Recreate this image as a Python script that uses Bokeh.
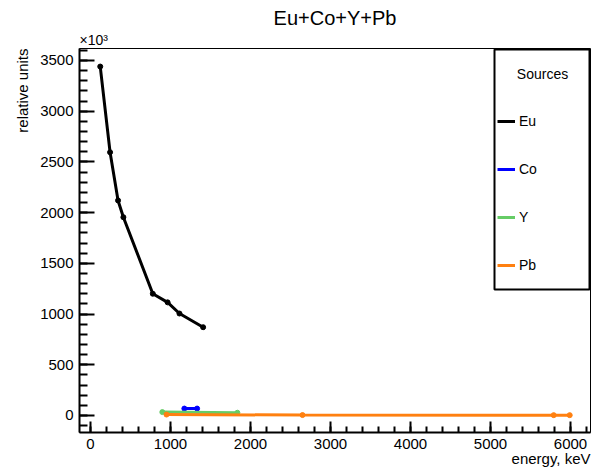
from bokeh.plotting import figure
from bokeh.models import (Range1d, SingleIntervalTicker, Legend, LegendItem,
                          Label, BoxAnnotation, Title)
from bokeh.embed import file_html
from bokeh.resources import INLINE

# ---- data (energies in keV, intensities in units of 10^3) ----
title_text = "Eu+Co+Y+Pb"
x_title = "energy, keV"
y_title = "relative units"
exponent_text = "×10³"
legend_title = "Sources"

eu_energy = [121.8, 244.7, 344.3, 411.1, 778.9, 964.1, 1112.1, 1408.0]
eu_counts = [3440, 2595, 2120, 1955, 1200, 1115, 1005, 870]

co_energy = [1173.2, 1332.5]
co_counts = [68, 68]

y_energy = [898.0, 1836.1]
y_counts = [33, 27]

pb_energy = [950.0, 2650.0, 5790.0, 5990.0]
pb_counts = [9, 4, 3, 3]

series = [
    ("Eu", eu_energy, eu_counts, "black"),
    ("Co", co_energy, co_counts, "#0000ff"),
    ("Y", y_energy, y_counts, "#66cc66"),
    ("Pb", pb_energy, pb_counts, "#ff8010"),
]

FONT = "Liberation Sans"
W, H = 592, 469
BL, BR, BT, BB = 79, 2, 48, 37
X0, X1 = -137.5, 6250.0
Y0, Y1 = -168.0, 3618.0

p = figure(width=W, height=H, output_backend="svg", toolbar_location=None,
           x_range=Range1d(X0, X1), y_range=Range1d(Y0, Y1),
           min_border_left=BL, min_border_right=BR, min_border_top=BT,
           min_border_bottom=BB)
p.background_fill_color = "white"
p.border_fill_color = "white"
p.outline_line_color = "black"
p.outline_line_width = 1
p.xgrid.visible = False
p.ygrid.visible = False

dx = (X1 - X0) / (W - BL - BR)
dy = (Y1 - Y0) / (H - BT - BB)

# titles
p.title.text = title_text
p.title.align = "center"
p.title.text_font = FONT
p.title.text_font_size = "20px"
p.title.text_font_style = "normal"
p.title.text_color = "black"
p.title.standoff = 2

p.add_layout(Title(text=exponent_text, align="left", text_font=FONT,
                   text_font_size="14px", text_font_style="normal",
                   text_color="black", standoff=1), "above")
p.add_layout(Title(text=x_title, align="right", text_font=FONT,
                   text_font_size="15px", text_font_style="normal",
                   text_color="black", standoff=-7), "below")
p.add_layout(Title(text=y_title, align="right", text_font=FONT,
                   text_font_size="15px", text_font_style="normal",
                   text_color="black", standoff=14), "left")

# axes (ROOT style: ticks pointing into the frame)
p.xaxis.ticker = SingleIntervalTicker(interval=1000, num_minor_ticks=5)
p.yaxis.ticker = SingleIntervalTicker(interval=500, num_minor_ticks=5)
for ax in (p.xaxis[0], p.yaxis[0]):
    ax.major_tick_out = 0
    ax.minor_tick_out = 0
    ax.axis_line_width = 2
    ax.axis_line_color = "black"
    ax.major_tick_line_width = 2
    ax.minor_tick_line_width = 2
    ax.major_tick_line_color = "black"
    ax.minor_tick_line_color = "black"
    ax.major_label_text_font = FONT
    ax.major_label_text_font_size = "15px"
    ax.major_label_text_color = "black"
p.xaxis.major_tick_in = 11
p.xaxis.minor_tick_in = 6
p.yaxis.major_tick_in = 15
p.yaxis.minor_tick_in = 8
p.xaxis.major_label_standoff = 6
p.yaxis.major_label_standoff = 6

items = []
for name, xs, ys, col in series:
    r = p.line(xs, ys, line_color=col, line_width=3)
    p.scatter(xs, ys, size=5, color=col)
    items.append(LegendItem(label=name, renderers=[r]))

# legend frame
box = BoxAnnotation(left=X0 + (494 - BL) * dx, right=X1 - 1 * dx,
                    bottom=Y0 + (H - BB - 289) * dy, top=Y1 - 1 * dy,
                    fill_color="white", fill_alpha=1,
                    line_color="black", line_alpha=1, line_width=2)
p.add_layout(box)

legend = Legend(items=items, location=(415, 154), orientation="vertical",
                padding=3, spacing=28, glyph_width=18, glyph_height=20,
                label_height=20, label_standoff=4, margin=0,
                border_line_alpha=0, background_fill_alpha=0,
                label_text_font=FONT, label_text_font_size="14px",
                label_text_color="black")
p.add_layout(legend)

p.add_layout(Label(x=X0 + (542 - BL) * dx, y=Y1 - (73 - BT) * dy,
                   text=legend_title, text_align="center",
                   text_baseline="middle", text_font=FONT,
                   text_font_size="14px", text_color="black"))

open("out.html", "w").write(file_html(p, INLINE))
